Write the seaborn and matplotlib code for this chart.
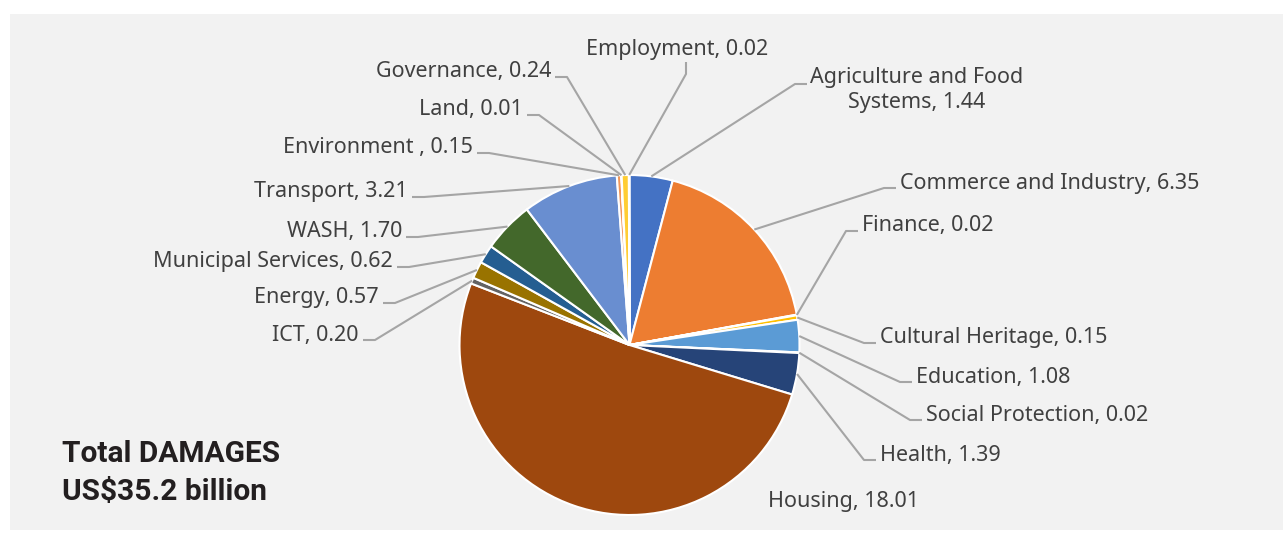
"""
Pie chart of disaster damages by sector, with Excel-style leader lines.
Writes out.png (1283x533).
"""

import numpy as np
import matplotlib
matplotlib.use('Agg')
import matplotlib.pyplot as plt
from matplotlib.patches import Rectangle
import seaborn as sns

# data (US$ billion), clockwise from 12 o'clock
sectors = ["Agriculture and Food\nSystems", "Commerce and Industry", "Finance",
           "Cultural Heritage", "Education", "Social Protection", "Health",
           "Housing", "ICT", "Energy", "Municipal Services", "WASH",
           "Transport", "Environment ", "Land", "Governance", "Employment"]
damages = [1.44, 6.35, 0.02, 0.15, 1.08, 0.02, 1.39, 18.01, 0.20, 0.57,
           0.62, 1.70, 3.21, 0.15, 0.01, 0.24, 0.02]
total_text = ["Total DAMAGES", "US$35.2 billion"]

palette = sns.color_palette(["#4472C4", "#ED7D31", "#A5A5A5", "#FFC000", "#5B9BD5",
                             "#70AD47", "#264478", "#9E480E", "#636363", "#997300",
                             "#255E91", "#43682B", "#698ED0", "#F1975A", "#B7B7B7",
                             "#FFCD33", "#7CAFDD"])

# layout in pixels (y from top): label anchor x, y, side the leader attaches on
W, H = 1283, 533
CX, CY, R = 629.5, 345, 170
label_pos = [(810, 88, "left2"), (900, 181, "left"), (862, 224, "left"),
             (880, 336, "left"), (916, 375, "left"), (926, 413, "left"),
             (880, 453, "left"), (768, 499, "none"), (359, 333, "right"),
             (379, 296, "right"), (393, 260, "right"), (402, 230, "right"),
             (408, 190, "right"), (473, 146, "right"), (523, 108, "right"),
             (551, 70, "right"), (677, 48, "bottom")]

FONT = ["Noto Sans", "DejaVu Sans"]
TXT = "#404040"
LINE = "#A5A5A5"

sns.set_style("white")
plt.rcParams['font.family'] = FONT


def Y(y):
    return H - y


def main():
    fig = plt.figure(figsize=(W / 100, H / 100), dpi=100)
    fig.patch.set_facecolor("white")
    ax = fig.add_axes([0, 0, 1, 1])

    ax.add_patch(Rectangle((10, Y(530)), W - 10, 530 - 14,
                           facecolor="#F2F2F2", edgecolor="none", zorder=0))

    ax.pie(damages, colors=palette, startangle=90, counterclock=False,
           center=(CX, Y(CY)), radius=R, frame=True,
           wedgeprops=dict(edgecolor="white", linewidth=1.5))
    ax.set_xlim(0, W)
    ax.set_ylim(0, H)
    ax.axis("off")

    total = sum(damages)
    cum = np.cumsum([0] + damages[:-1])
    for name, v, c, (lx, ly, side) in zip(sectors, damages, cum, label_pos):
        label = f"{name}, {v:.2f}"
        tx = lx
        if side in ("left", "none"):
            ha = "left"
        elif side == "right":
            ha = "right"
        elif side == "left2":
            ha = "center"
            tx = lx + 107
        else:
            ha = "center"
        ax.text(tx, Y(ly + 2), label, ha=ha, va="center", fontsize=15.5,
                color=TXT, linespacing=1.2, zorder=5)
        if side == "none":
            continue
        ang = np.deg2rad(90 - 360 * (c + v / 2) / total)
        px, py = CX + R * np.cos(ang), CY - R * np.sin(ang)
        if side == "right":
            xs = [lx + 4, lx + 16, px]
            ys = [ly + 7, ly + 7, py]
        elif side == "left":
            xs = [lx - 4, lx - 16, px]
            ys = [ly + 7, ly + 7, py]
        elif side == "left2":
            xs = [lx - 3, lx - 15, px]
            ys = [ly - 4, ly - 4, py]
        else:
            xs = [lx + 9, lx + 9, px]
            ys = [ly + 14, ly + 26, py]
        ax.plot(xs, [Y(y) for y in ys], color=LINE, lw=1.5, zorder=4,
                solid_capstyle="butt")

    for i, t in enumerate(total_text):
        ax.text(62, Y(454 + 38 * i), t, ha="left", va="center", fontsize=21.5,
                family=["Roboto", "DejaVu Sans"], fontweight="bold",
                color="#231F20", zorder=5)

    fig.savefig("out.png", dpi=100, facecolor=fig.get_facecolor())
    plt.close(fig)


if __name__ == "__main__":
    main()
